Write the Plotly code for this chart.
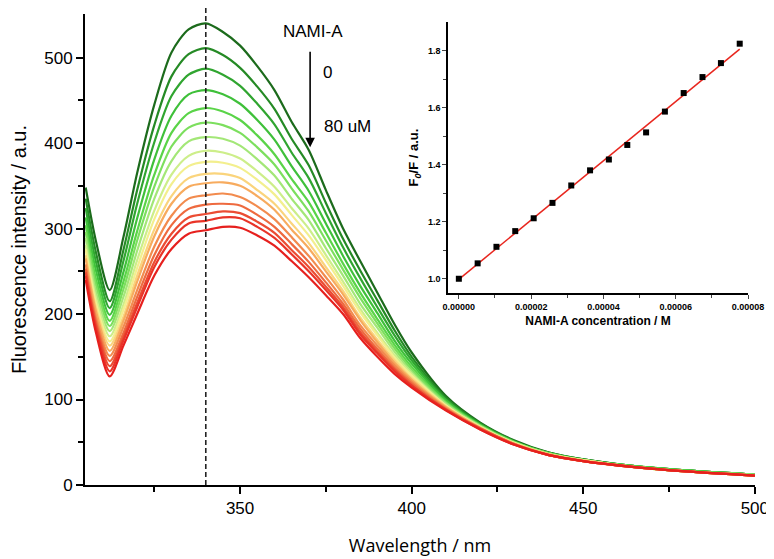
import plotly.graph_objects as go

# wavelength grid (nm)
wavelength = [305, 308, 312, 316, 320, 325, 330, 335, 340, 345, 350, 355, 360, 365, 370,
              375, 380, 385, 390, 395, 400, 410, 420, 430, 440, 450, 465, 480, 500]

# fluorescence spectra, 0 -> 80 uM NAMI-A (top to bottom)
spec_00 = [348, 285, 228, 290, 365, 445, 506, 533, 540, 530, 514, 490, 462, 425, 392, 345, 300, 262, 225, 188, 155, 104, 73, 52, 38, 30, 22, 17, 12]
spec_01 = [335, 272, 215, 275, 345, 421, 478, 504, 511, 503, 488, 466, 440, 405, 374, 330, 288, 251, 216, 181, 150, 102, 72, 51, 38, 30, 22, 17, 12]
spec_02 = [324, 261, 207, 262, 329, 401, 455, 480, 487, 480, 467, 446, 422, 389, 359, 318, 278, 242, 208, 175, 146, 100, 71, 51, 37, 30, 22, 17, 12]
spec_03 = [313, 251, 199, 249, 312, 381, 432, 457, 462, 457, 446, 427, 404, 373, 344, 306, 268, 233, 201, 169, 142, 99, 70, 50, 37, 29, 22, 17, 12]
spec_04 = [304, 241, 192, 238, 297, 363, 412, 435, 441, 437, 427, 409, 387, 358, 331, 295, 259, 225, 194, 164, 138, 97, 70, 50, 37, 29, 22, 17, 12]
spec_05 = [296, 234, 186, 229, 286, 349, 396, 418, 424, 421, 412, 395, 375, 347, 320, 286, 252, 219, 189, 160, 135, 96, 69, 50, 37, 29, 21, 16, 12]
spec_06 = [289, 226, 180, 220, 274, 335, 379, 402, 407, 405, 397, 381, 362, 335, 310, 277, 245, 212, 184, 156, 132, 95, 69, 49, 36, 29, 21, 16, 12]
spec_07 = [281, 219, 174, 211, 263, 321, 363, 385, 391, 389, 382, 367, 349, 324, 300, 269, 238, 206, 178, 152, 130, 93, 68, 49, 36, 29, 21, 16, 11]
spec_08 = [276, 213, 168, 205, 254, 311, 352, 373, 378, 377, 371, 357, 340, 316, 292, 263, 233, 202, 175, 149, 128, 93, 68, 49, 36, 29, 21, 16, 11]
spec_09 = [269, 207, 163, 197, 245, 299, 338, 359, 364, 364, 359, 345, 329, 306, 283, 255, 227, 196, 170, 146, 125, 92, 67, 48, 36, 29, 21, 16, 11]
spec_10 = [265, 203, 157, 192, 238, 291, 329, 349, 353, 354, 350, 338, 322, 299, 277, 250, 223, 193, 167, 143, 123, 91, 67, 48, 36, 28, 21, 16, 11]
spec_11 = [258, 196, 151, 185, 228, 279, 315, 335, 339, 341, 337, 326, 311, 290, 268, 243, 217, 187, 163, 140, 121, 90, 66, 48, 35, 28, 21, 16, 11]
spec_12 = [253, 191, 145, 178, 220, 269, 304, 323, 328, 329, 327, 316, 302, 282, 261, 237, 212, 183, 159, 137, 119, 89, 66, 48, 35, 28, 21, 16, 11]
spec_13 = [249, 187, 139, 173, 213, 261, 294, 313, 317, 320, 318, 308, 295, 275, 255, 232, 208, 179, 156, 135, 117, 88, 66, 47, 35, 28, 21, 16, 11]
spec_14 = [245, 183, 133, 169, 208, 255, 287, 306, 309, 313, 312, 302, 289, 270, 250, 228, 205, 176, 154, 133, 116, 88, 65, 47, 35, 28, 21, 16, 11]
spec_15 = [240, 178, 127, 163, 200, 245, 276, 294, 298, 302, 301, 292, 280, 262, 243, 222, 200, 172, 150, 130, 114, 87, 65, 47, 35, 28, 21, 16, 11]

spectra = [spec_00, spec_01, spec_02, spec_03, spec_04, spec_05, spec_06, spec_07,
           spec_08, spec_09, spec_10, spec_11, spec_12, spec_13, spec_14, spec_15]

colors = ["#1c6b1c", "#258a25", "#30a530", "#3fc03a", "#5ad448", "#7cdf5e", "#a3e777", "#cdee8a",
          "#f3ef8e", "#fad47c", "#f7ab5e", "#f28b4e", "#ee6a3f", "#eb4c33", "#e93428", "#e6201e"]

# Stern-Volmer inset
conc = [0.0, 5.2e-6, 1.04e-5, 1.56e-5, 2.07e-5, 2.59e-5, 3.11e-5, 3.63e-5,
        4.15e-5, 4.66e-5, 5.18e-5, 5.70e-5, 6.22e-5, 6.74e-5, 7.25e-5, 7.77e-5]
f0_f = [1.000, 1.054, 1.112, 1.167, 1.212, 1.266, 1.327, 1.380,
        1.418, 1.469, 1.513, 1.586, 1.651, 1.707, 1.756, 1.824]
fit_x = [0.0, 7.77e-5]
fit_y = [0.998, 1.805]

fig = go.Figure()

for vals, col in zip(spectra, colors):
    fig.add_trace(go.Scatter(x=wavelength, y=vals, mode="lines", line=dict(color=col, width=2.2, shape="spline", smoothing=0.8),
                             showlegend=False, hoverinfo="skip"))

fig.add_trace(go.Scatter(x=fit_x, y=fit_y, mode="lines", line=dict(color="#e8261e", width=1.5),
                         xaxis="x2", yaxis="y2", showlegend=False))
fig.add_trace(go.Scatter(x=conc, y=f0_f, mode="markers", marker=dict(symbol="square", size=6, color="black"),
                         xaxis="x2", yaxis="y2", showlegend=False))

# dashed line at 340 nm
fig.add_shape(type="line", x0=340, x1=340, xref="x", y0=0, y1=1.03, yref="paper",
              line=dict(color="#222222", width=1.6, dash="5px,3px"))

main_font = dict(family="Liberation Sans, Arial", size=17, color="black")
fig.add_annotation(x=371.2, y=530, xref="x", yref="y", text="NAMI-A", showarrow=False, font=main_font)
fig.add_annotation(x=375.6, y=483, xref="x", yref="y", text="0", showarrow=False, font=main_font)
fig.add_annotation(x=373.8, y=419, xref="x", yref="y", text="80 uM", showarrow=False, font=main_font, xanchor="left")
fig.add_annotation(x=370.4, y=395, xref="x", yref="y", ax=0, ay=-97, text="", showarrow=True,
                   arrowhead=2, arrowsize=1.2, arrowwidth=1.6, arrowcolor="black")

# page body has an 8px margin, so the figure is offset by 8px inside the window
fig.update_layout(
    width=764, height=549,
    margin=dict(l=77, r=17, t=6, b=72),
    plot_bgcolor="white", paper_bgcolor="white",
    xaxis=dict(range=[304.8, 500.05], tickvals=[350, 400, 450, 500], showline=True, linecolor="black", linewidth=2,
               ticks="outside", ticklen=7, tickwidth=2, tickcolor="black", showgrid=False, zeroline=False,
               minor=dict(tickvals=[325, 375, 425, 475], ticks="outside", ticklen=5, tickwidth=1.5, tickcolor="black"),
               tickfont=main_font, automargin=False, ticklabeloverflow="allow",
               title=dict(text="Wavelength / nm", font=dict(family="Open Sans", size=18, color="black"), standoff=24)),
    yaxis=dict(range=[0, 551], tickvals=[0, 100, 200, 300, 400, 500], showline=True, linecolor="black", linewidth=2,
               ticks="outside", ticklen=7, tickwidth=2, tickcolor="black", showgrid=False, zeroline=False,
               minor=dict(tickvals=[50, 150, 250, 350, 450], ticks="outside", ticklen=5, tickwidth=1.5, tickcolor="black"),
               tickfont=main_font, automargin=False,
               title=dict(text="Fluorescence intensity / a.u.", font=dict(family="Liberation Sans, Arial", size=20, color="black"), standoff=12)),
    xaxis2=dict(domain=[0.5418, 0.9896], anchor="y2", range=[-3e-6, 8e-5],
                tickvals=[0, 2e-5, 4e-5, 6e-5, 8e-5], ticktext=["0.00000", "0.00002", "0.00004", "0.00006", "0.00008"],
                showline=True, linecolor="black", linewidth=1.5, ticks="outside", ticklen=4, tickwidth=1.2,
                minor=dict(tickvals=[1e-5, 3e-5, 5e-5, 7e-5], ticks="outside", ticklen=3, tickwidth=1),
                showgrid=False, zeroline=False, automargin=False,
                tickfont=dict(family="Liberation Sans, Arial", size=9, color="black", weight="bold"),
                title=dict(text="NAMI-A concentration / M", font=dict(family="Liberation Sans, Arial", size=12, color="black", weight="bold"), standoff=6)),
    yaxis2=dict(domain=[0.4076, 0.983], anchor="x2", range=[0.95, 1.9],
                tickvals=[1.0, 1.2, 1.4, 1.6, 1.8], ticktext=["1.0", "1.2", "1.4", "1.6", "1.8"],
                showline=True, linecolor="black", linewidth=1.5, ticks="outside", ticklen=4, tickwidth=1.2,
                minor=dict(tickvals=[1.1, 1.3, 1.5, 1.7], ticks="outside", ticklen=3, tickwidth=1),
                showgrid=False, zeroline=False, automargin=False,
                tickfont=dict(family="Liberation Sans, Arial", size=9, color="black", weight="bold"),
                title=dict(text="F<sub><i>0</i></sub>/F / a.u.", font=dict(family="Liberation Sans, Arial", size=13, color="black", weight="bold"), standoff=6)),
)

fig.write_html("out.html")
